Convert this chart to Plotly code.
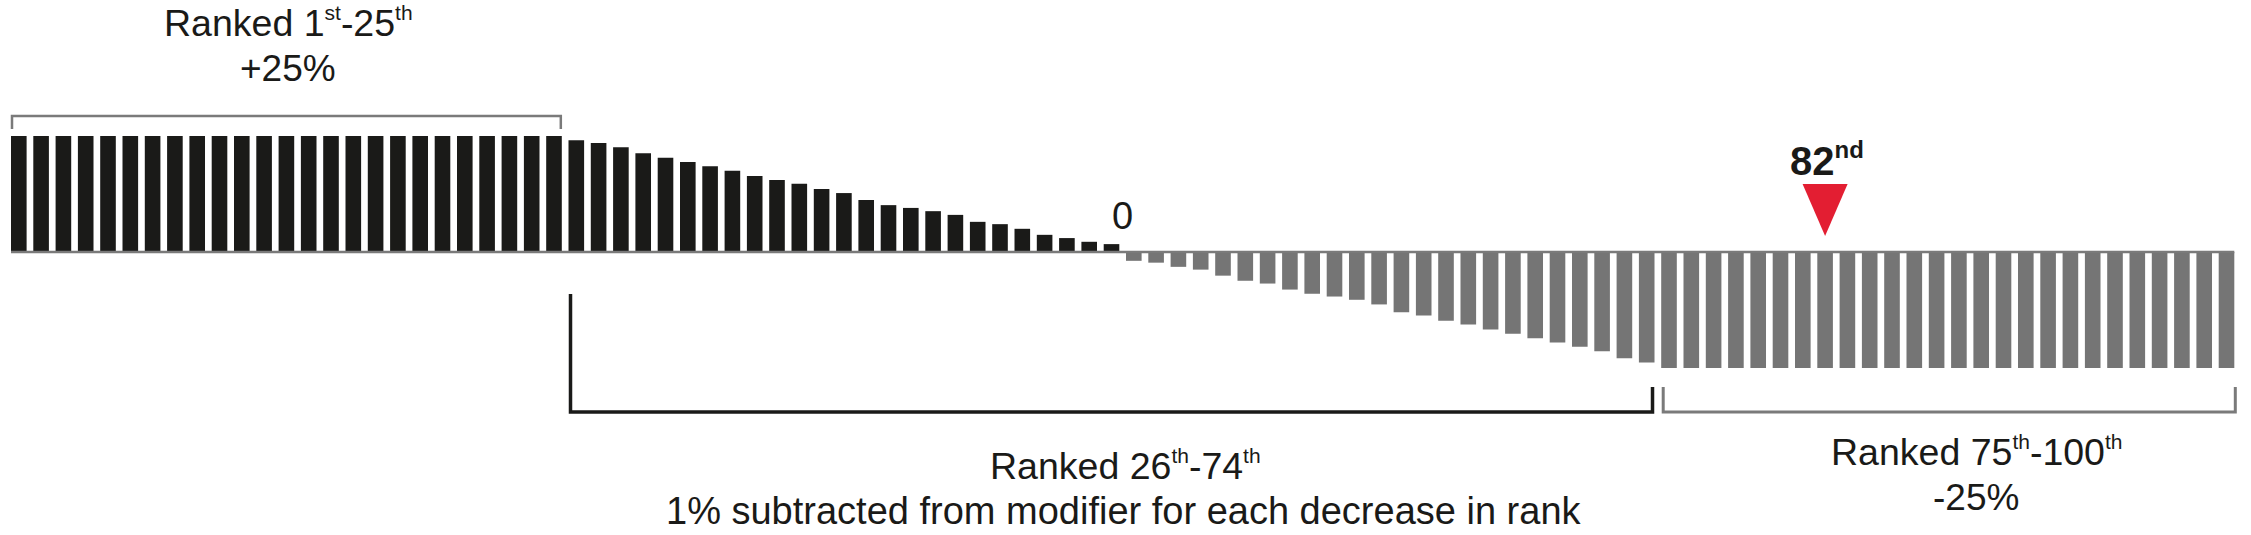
import plotly.graph_objects as go

# ---------------- data ----------------
ranks = list(range(1, 101))
modifier = [
    25, 25, 25, 25, 25, 25, 25, 25, 25, 25, 25, 25, 25, 25, 25, 25, 25, 25, 25, 25, 25, 25, 25, 25, 25,
    24.1, 23.5, 22.6, 21.3, 20.3, 19.4, 18.5, 17.5, 16.4, 15.5, 14.7, 13.6, 12.7, 11.2, 10.1,
    9.5, 8.8, 8.0, 6.5, 6.0, 5.0, 3.7, 3.0, 2.2, 1.7,
    -1.9, -2.3, -3.2, -3.8, -5.1, -6.2, -6.8, -8.1, -9.0, -9.6, -10.3, -11.3, -13.0, -13.7,
    -14.8, -15.6, -16.7, -17.6, -18.6, -19.5, -20.4, -21.4, -22.9, -23.8,
    -25, -25, -25, -25, -25, -25, -25, -25, -25, -25, -25, -25, -25,
    -25, -25, -25, -25, -25, -25, -25, -25, -25, -25, -25, -25, -25,
]
group_first = [1, 26, 75]
group_last = [25, 74, 100]
group_titles = [("Ranked 1", "st", "-25", "th"),
                ("Ranked 26", "th", "-74", "th"),
                ("Ranked 75", "th", "-100", "th")]
group_subtitles = ["+25%", "1% subtracted from modifier for each decrease in rank", "-25%"]
highlight_rank = 82
highlight_label = ("82", "nd")
zero_label = "0"

# ---------------- styling / layout constants ----------------
W, H = 2251, 535
PX_PER_RANK = 22.3
X_MIN = 1 - 18.8 / PX_PER_RANK
X_MAX = X_MIN + W / PX_PER_RANK
ZERO_PX = 252
PX_PER_PCT = 116 / 25
Y_MAX = ZERO_PX / PX_PER_PCT
Y_MIN = Y_MAX - H / PX_PER_PCT
HALF_BAR = 0.35

BLACK = "#1a1a18"
GREY = "#757575"
LINE_GREY = "#7a7a7a"
RED = "#e31e32"
FONT = "Liberation Sans, Arial, Helvetica, sans-serif"


def ypx(py):
    return (ZERO_PX - py) / PX_PER_PCT


def xpx(px):
    return X_MIN + px / PX_PER_RANK


def sup(s, size):
    return f"<sup><span style='font-size:{size}px'>{s}</span></sup>"


colors = [BLACK if v > 0 else GREY for v in modifier]

fig = go.Figure(go.Bar(x=ranks, y=modifier, marker=dict(color=colors, line=dict(width=0)),
                       hoverinfo="x+y"))

shapes = []
# baseline
shapes.append(dict(type="line", xref="x", yref="y", x0=ranks[0] - HALF_BAR, x1=ranks[-1] + HALF_BAR,
                   y0=0, y1=0, line=dict(color=LINE_GREY, width=2.5), layer="above"))

px1 = 1 / PX_PER_RANK
# top bracket (group 1)
a, b = group_first[0] - HALF_BAR + px1, group_last[0] + HALF_BAR - px1
shapes.append(dict(type="path", xref="x", yref="y",
                   path=f"M {a},{ypx(129)} V {ypx(116)} H {b} V {ypx(129)}",
                   line=dict(color=LINE_GREY, width=2.5)))
# middle bracket (group 2)
a, b = group_first[1] - HALF_BAR + 2 * px1, group_last[1] + HALF_BAR - 2 * px1
shapes.append(dict(type="path", xref="x", yref="y",
                   path=f"M {a},{ypx(294)} V {ypx(412)} H {b} V {ypx(387)}",
                   line=dict(color=BLACK, width=3.5)))
# right bracket (group 3)
a, b = group_first[2] - HALF_BAR + 2 * px1, group_last[2] + HALF_BAR + px1
shapes.append(dict(type="path", xref="x", yref="y",
                   path=f"M {a},{ypx(387)} V {ypx(412)} H {b} V {ypx(387)}",
                   line=dict(color=LINE_GREY, width=3)))
# red triangle marker
hw = 22.5 / PX_PER_RANK
shapes.append(dict(type="path", xref="x", yref="y",
                   path=f"M {highlight_rank - hw},{ypx(184)} L {highlight_rank + hw},{ypx(184)} "
                        f"L {highlight_rank},{ypx(236)} Z",
                   fillcolor=RED, line=dict(width=0)))

annotations = []


def add_text(text, cx, cy, size=37, bold=False, color=BLACK):
    if bold:
        text = f"<b>{text}</b>"
    annotations.append(dict(text=text, xref="x", yref="y", x=xpx(cx), y=ypx(cy),
                            xanchor="center", yanchor="middle", showarrow=False,
                            font=dict(family=FONT, size=size, color=color)))


def title_text(parts, sup_size=21):
    a1, s1, a2, s2 = parts
    return a1 + sup(s1, sup_size) + a2 + sup(s2, sup_size)


# group labels
add_text(title_text(group_titles[0]), 288, 22, size=37.5)
add_text(group_subtitles[0], 288, 68)
add_text(title_text(group_titles[1]), 1125, 465, size=37.5)
add_text(group_subtitles[1], 1124, 511, size=38)
add_text(title_text(group_titles[2]), 1976, 451, size=37.5)
add_text(group_subtitles[2], 1976, 497)
add_text(zero_label, 1122, 216, size=38)
add_text(highlight_label[0] + sup(highlight_label[1], 24), 1827, 159, size=40, bold=True)

fig.update_layout(
    width=W, height=H,
    margin=dict(l=0, r=0, t=0, b=0),
    paper_bgcolor="white", plot_bgcolor="white",
    showlegend=False,
    bargap=1 - 2 * HALF_BAR,
    xaxis=dict(range=[X_MIN, X_MAX], visible=False, fixedrange=True),
    yaxis=dict(range=[Y_MIN, Y_MAX], visible=False, fixedrange=True),
    shapes=shapes,
    annotations=annotations,
)

fig.write_html("out.html", config={"displayModeBar": False},
               post_script="document.body.style.margin='0';document.body.style.overflow='hidden';")
